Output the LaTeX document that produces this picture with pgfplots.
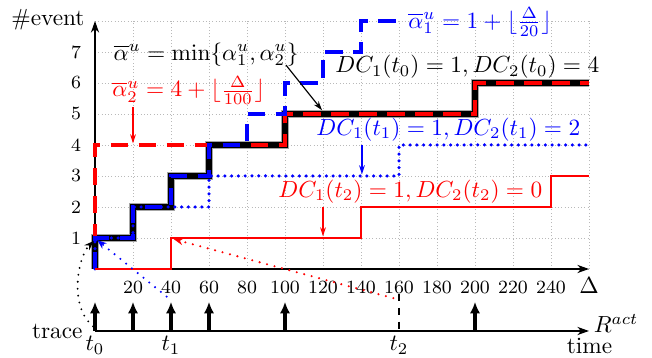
\documentclass[border=0pt]{standalone}
\usepackage{pgfplots}
\pgfplotsset{compat=1.18}
\usetikzlibrary{arrows.meta}
\begin{document}
\begin{tikzpicture}
\begin{axis}[
  x=0.8155pt, y=13.305pt,
  xmin=0, xmax=260, ymin=0, ymax=8,
  axis lines=left,
  axis line style={line width=0.8pt, -{Stealth[length=5pt,width=3.5pt]}},
  xtick={0,20,...,260},
  xticklabels={,20,40,60,80,100,120,140,160,180,200,220,240,{\normalsize$\Delta$}},
  ytick={0,...,8},
  yticklabels={,1,2,3,4,5,6,7,},
  major tick length=0pt,
  tick label style={font=\footnotesize},
  xticklabel style={anchor=base, yshift=-10.5pt},
  yticklabel style={xshift=-2.5pt},
  grid=major,
  grid style={gray!55, densely dotted, line width=0.4pt},
  clip=false,
]
% bounding box
\path (axis cs:-50,-2.871) rectangle (axis cs:293.16,8.677);

% min curve (black thick)
\addplot[gray!70, line width=3.4pt, line join=miter, mark=none] coordinates {
(0,0)(0,1)(20,1)(20,2)(40,2)(40,3)(60,3)(60,4)(100,4)(100,5)(200,5)(200,6)(260,6)};
\addplot[black, line width=2.8pt, line join=miter, mark=none] coordinates {
(0,0)(0,1)(20,1)(20,2)(40,2)(40,3)(60,3)(60,4)(100,4)(100,5)(200,5)(200,6)(260,6)};
% alpha_2 (red dashed)
\addplot[red, line width=1.6pt, dash pattern=on 7.5pt off 4.5pt, mark=none] coordinates {
(0,0)(0,4)(100,4)(100,5)(200,5)(200,6)(260,6)};
% alpha_1 (blue dashed)
\addplot[blue, line width=1.6pt, dash pattern=on 7.5pt off 4.5pt, mark=none] coordinates {
(0,0)(0,1)(20,1)(20,2)(40,2)(40,3)(60,3)(60,4)(80,4)(80,5)(100,5)(100,6)(120,6)(120,7)(140,7)(140,8)(160,8)};
% t1 curve (blue dotted)
\addplot[blue, line width=1.5pt, line cap=round, dash pattern=on 0pt off 2.9pt, mark=none] coordinates {
(0,0)(0,1)(20,1)(20,2)(60,2)(60,3)(160,3)(160,4)(260,4)};
% t2 curve (red solid)
\addplot[red, line width=1.2pt, mark=none] coordinates {
(0,0)(40,0)(40,1)(140,1)(140,2)(240,2)(240,3)(260,3)};

% trace timeline
\addplot[black, line width=0.8pt, -{Stealth[length=5pt,width=3.5pt]}, mark=none] coordinates {(0,-2)(260,-2)};
\addplot[black, line width=1.3pt, -{Latex[length=5pt,width=4.5pt]}, mark=none] coordinates {(0,-2)(0,-1.06)};
\addplot[black, line width=1.3pt, -{Latex[length=5pt,width=4.5pt]}, mark=none] coordinates {(20,-2)(20,-1.06)};
\addplot[black, line width=1.3pt, -{Latex[length=5pt,width=4.5pt]}, mark=none] coordinates {(40,-2)(40,-1.06)};
\addplot[black, line width=1.3pt, -{Latex[length=5pt,width=4.5pt]}, mark=none] coordinates {(60,-2)(60,-1.06)};
\addplot[black, line width=1.3pt, -{Latex[length=5pt,width=4.5pt]}, mark=none] coordinates {(100,-2)(100,-1.06)};
\addplot[black, line width=1.3pt, -{Latex[length=5pt,width=4.5pt]}, mark=none] coordinates {(200,-2)(200,-1.06)};
\addplot[black, line width=0.8pt, dashed, mark=none] coordinates {(160,-0.8)(160,-2)};

% dotted links
\draw[black, line width=0.9pt, line cap=round, dash pattern=on 0pt off 3pt, -{Stealth[length=4pt,width=3pt]}]
  (axis cs:-1,-1.85) .. controls (axis cs:-14,-1.2) and (axis cs:-9,0.4) .. (axis cs:-0.8,0.9);
\draw[blue, line width=1pt, line cap=round, dash pattern=on 0pt off 3.2pt, -{Stealth[length=4pt,width=3pt]}]
  (axis cs:37.7,-0.89) -- (axis cs:1.2,0.93);
\draw[red, line width=1pt, line cap=round, dash pattern=on 0pt off 3.3pt, -{Stealth[length=4pt,width=3pt]}]
  (axis cs:157,-0.94) -- (axis cs:41.5,0.96);

% annotation arrows
\draw[black, line width=0.5pt, -{Stealth[length=4pt,width=2.5pt]}] (axis cs:100.5,6.58) -- (axis cs:119.5,5.12);
\draw[red, line width=0.5pt, -{Stealth[length=4pt,width=2.5pt]}] (axis cs:20,5.23) -- (axis cs:20,4.05);
\draw[blue, line width=0.5pt, -{Stealth[length=4pt,width=2.5pt]}] (axis cs:140.5,4.0) -- (axis cs:140.5,3.05);
\draw[red, line width=0.5pt, -{Stealth[length=4pt,width=2.5pt]}] (axis cs:120,2.0) -- (axis cs:120,1.05);

% texts
\node[anchor=base east, inner sep=0] at (axis cs:-5.3,7.84) {\#event};
\node[anchor=base west, inner sep=0] at (axis cs:9.5,6.74) {$\overline{\alpha}^u = \min\{\alpha_1^u,\alpha_2^u\}$};
\node[anchor=base west, inner sep=0, text=red] at (axis cs:8.9,5.55) {$\overline{\alpha}_2^u = 4 + \lfloor\frac{\Delta}{100}\rfloor$};
\node[anchor=base west, inner sep=0, text=blue] at (axis cs:164.7,7.77) {$\overline{\alpha}_1^u = 1 + \lfloor\frac{\Delta}{20}\rfloor$};
\node[anchor=base west, inner sep=0] at (axis cs:126.3,6.33) {$DC_1(t_0)=1, DC_2(t_0)=4$};
\node[anchor=base west, inner sep=0, text=blue] at (axis cs:116.3,4.32) {$DC_1(t_1)=1, DC_2(t_1)=2$};
\node[anchor=base west, inner sep=0, text=red] at (axis cs:96.3,2.32) {$DC_1(t_2)=1, DC_2(t_2)=0$};
\node[anchor=base east, inner sep=0] at (axis cs:-6.3,-2.23) {trace};
\node[anchor=base, inner sep=0] at (axis cs:0,-2.64) {$t_0$};
\node[anchor=base, inner sep=0] at (axis cs:40,-2.64) {$t_1$};
\node[anchor=base, inner sep=0] at (axis cs:160,-2.64) {$t_2$};
\node[anchor=base west, inner sep=0] at (axis cs:262.3,-2.05) {$R^{act}$};
\node[anchor=base, inner sep=0] at (axis cs:260.3,-2.71) {time};
\end{axis}
\end{tikzpicture}
\end{document}
